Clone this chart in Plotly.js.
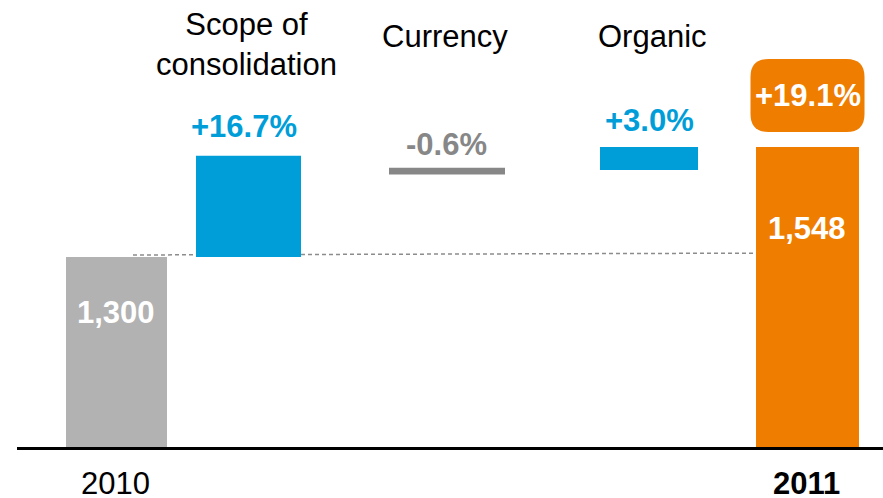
<!DOCTYPE html>
<html><head><meta charset="utf-8">
<script src="https://cdn.plot.ly/plotly-3.0.1.min.js"></script>
<style>html,body{margin:0;padding:0;background:#fff}#chart{width:883px;height:498px}</style>
</head><body><div id="chart"></div>
<script>
// ---------- data ----------
const categories   = ["2010", "Scope of consolidation", "Currency", "Organic", "2011"];
const barBottom    = [0, 1300, 1486, 1496, 0];
const barTop       = [1300, 1528, 1501, 1548, 1548];
const valueLabels  = ["1,300", "+16.7%", "-0.6%", "+3.0%", "1,548"];
const headerLabels = ["", "Scope of<br>consolidation", "Currency", "Organic", ""];
const footerLabels = ["2010", "", "", "", "<b>2011</b>"];
const totalGrowthLabel = "+19.1%";
const connectorValue = barTop[0];

// ---------- styles / layout ----------
const W = 883, H = 498;
const M = {l: 17, r: 0, t: 0, b: 51};
const plotH = H - M.t - M.b;
const unit = (W - M.l - M.r) / categories.length;
const yRange = [871.6, 1879.4];
const FONT = "Liberation Sans, Arial, Helvetica, sans-serif";
const barColors   = ["#b2b2b2", "#009ed9", "#878787", "#009ed9", "#ef7d00"];
const labelColors = ["#ffffff", "#009ed9", "#878787", "#009ed9", "#ffffff"];
const barShiftPx  = [12.9, -28.3, -3, 25.8, 11.1];
const barWidthPx  = [101, 105, 116, 98, 103];
const valueDx     = [-0.5, -4.5, -0.5, 0, -0.5];
const valueDy     = [-55.5, 29, 23, 26, -82];
const headerDx    = [0, -2.5, -2.5, 3, 0];
const headerPx    = [0, 45, 36, 36, 0];
const footerDx    = [-1, 0, 0, 0, -1.5];
const footerPx    = 484;
const pxToPaper = p => (plotH - (p - M.t)) / plotH;

const widths  = barWidthPx.map(w => w / unit);
const offsets = barShiftPx.map((s, i) => (s - barWidthPx[i] / 2) / unit);

const trace = {
  type: "bar",
  x: categories,
  y: barTop.map((t, i) => t - barBottom[i]),
  base: barBottom,
  width: widths,
  offset: offsets,
  marker: {color: barColors, line: {width: 0}},
  hoverinfo: "skip",
  textposition: "none"
};

// category positions by index (category names such as "2010" look numeric)
const annotations = [];
categories.forEach((c, i) => {
  annotations.push({
    x: i, y: barTop[i], xref: "x", yref: "y",
    xshift: barShiftPx[i] + valueDx[i], yshift: valueDy[i],
    text: valueLabels[i], showarrow: false, xanchor: "center", yanchor: "middle",
    font: {family: FONT, size: 31, color: labelColors[i], weight: 700}
  });
  if (headerLabels[i]) annotations.push({
    x: i, y: pxToPaper(headerPx[i]), xref: "x", yref: "paper",
    xshift: barShiftPx[i] + headerDx[i],
    text: headerLabels[i], showarrow: false, xanchor: "center", yanchor: "middle",
    font: {family: FONT, size: 31, color: "#000000"}
  });
  if (footerLabels[i]) annotations.push({
    x: i, y: pxToPaper(footerPx), xref: "x", yref: "paper",
    xshift: barShiftPx[i] + footerDx[i],
    text: footerLabels[i], showarrow: false, xanchor: "center", yanchor: "middle",
    font: {family: FONT, size: 31, color: "#000000"}
  });
});
const last = categories.length - 1;
annotations.push({
  x: last, y: barTop[last], xref: "x", yref: "y",
  xshift: barShiftPx[last] + 0.5, yshift: 51.5,
  text: totalGrowthLabel, showarrow: false, xanchor: "center", yanchor: "middle",
  font: {family: FONT, size: 31, color: "#ffffff", weight: 700}
});

const shapes = [
  {
    type: "line", layer: "below", xref: "x", yref: "y",
    x0: 0 + (barShiftPx[0] + 16.5) / unit, x1: last + barShiftPx[last] / unit,
    ysizemode: "pixel", yanchor: connectorValue, y0: 2, y1: 4,
    line: {color: "#8c8c8c", width: 1.5, dash: "4px,3px"}
  },
  {
    type: "path", layer: "above", xref: "x", yref: "y",
    xsizemode: "pixel", ysizemode: "pixel",
    xanchor: last + barShiftPx[last] / unit, yanchor: barTop[last],
    path: "M -39,15 L 39,15 Q 57,15 57,33 L 57,70 Q 57,88 39,88 L -39,88 Q -57,88 -57,70 L -57,33 Q -57,15 -39,15 Z",
    fillcolor: "#ef7d00", line: {width: 0}
  }
];

const layout = {
  width: W, height: H,
  margin: M,
  paper_bgcolor: "#ffffff", plot_bgcolor: "#ffffff",
  showlegend: false,
  xaxis: {
    type: "category", range: [-0.5, categories.length - 0.5],
    showline: true, linecolor: "#000000", linewidth: 3,
    showticklabels: false, ticks: "", showgrid: false, zeroline: false, fixedrange: true
  },
  yaxis: {visible: false, range: yRange, showgrid: false, zeroline: false, fixedrange: true},
  annotations: annotations,
  shapes: shapes
};

Plotly.newPlot("chart", [trace], layout, {displayModeBar: false, staticPlot: true});
</script>
</body></html>
